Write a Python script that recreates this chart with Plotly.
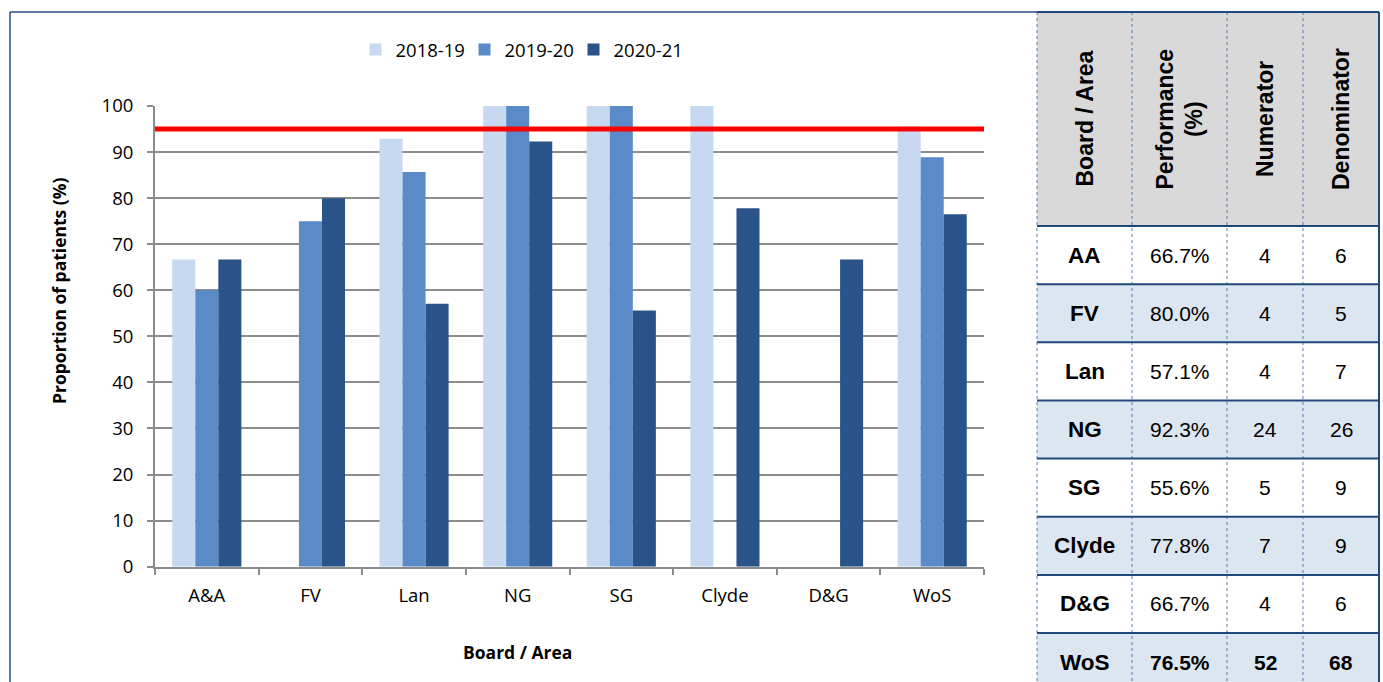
import plotly.graph_objects as go

# ---- chart data -------------------------------------------------------------
boards = ["A&A", "FV", "Lan", "NG", "SG", "Clyde", "D&G", "WoS"]
years = ["2018-19", "2019-20", "2020-21"]
perf_2018_19 = [66.7, None, 92.9, 100.0, 100.0, 100.0, None, 95.5]
perf_2019_20 = [60.0, 75.0, 85.7, 100.0, 100.0, None, None, 88.9]
perf_2020_21 = [66.7, 80.0, 57.1, 92.3, 55.6, 77.8, 66.7, 76.5]
target = 95

x_title = "Board / Area"
y_title = "Proportion of patients (%)"

# ---- table data -------------------------------------------------------------
table_headers = ["Board / Area", "Performance<br>(%)", "Numerator", "Denominator"]
table_boards = ["AA", "FV", "Lan", "NG", "SG", "Clyde", "D&G", "WoS"]
numerators = [4, 4, 4, 24, 5, 7, 4, 52]
denominators = [6, 5, 7, 26, 9, 9, 6, 68]

W, H = 1383, 682


def px(x):
    return x / W


def py(y):
    return 1 - y / H


colors = ["#C6D9F0", "#5A8BC8", "#2A5389"]
series = [perf_2018_19, perf_2019_20, perf_2020_21]

fig = go.Figure()
for name, vals, col in zip(years, series, colors):
    fig.add_trace(go.Bar(x=boards, y=vals, name=name, marker=dict(color=col, line=dict(width=0))))

# target line
fig.add_shape(type="line", xref="x domain", x0=0, x1=1, yref="y", y0=target, y1=target,
              line=dict(color="#FF0000", width=5), layer="above")

chart_font = "Open Sans"
fig.update_layout(
    width=W, height=H,
    margin=dict(l=0, r=0, t=0, b=0, autoexpand=False),
    paper_bgcolor="white", plot_bgcolor="white",
    barmode="group", bargap=0.333, bargroupgap=0,
    font=dict(family=chart_font, size=18.5, color="#000000"),
    showlegend=True,
    legend=dict(orientation="h", x=px(519), xanchor="center", y=py(50), yanchor="middle",
                font=dict(family=chart_font, size=18.5, color="#000000"),
                bgcolor="rgba(0,0,0,0)", traceorder="normal", entrywidth=64),
    xaxis=dict(domain=[px(155), px(984)], type="category",
               showline=True, linecolor="#8C8C8C", linewidth=2,
               ticks="outside", tickson="boundaries", ticklen=6, tickcolor="#8C8C8C", tickwidth=2,
               showgrid=False, ticklabelstandoff=11),
    yaxis=dict(domain=[py(566.7), py(106)], range=[0, 100], dtick=10, autorange=False,
               showline=True, linecolor="#8C8C8C", linewidth=2,
               ticks="outside", ticklen=6, tickcolor="#8C8C8C", tickwidth=2,
               showgrid=True, gridcolor="#8C8C8C", gridwidth=2, zeroline=False,
               ticklabelstandoff=10),
)

# axis titles
fig.add_annotation(xref="paper", yref="paper", x=px(517), y=py(652), xanchor="center", yanchor="middle",
                   text=f"<b>{x_title}</b>", showarrow=False,
                   font=dict(family=chart_font, size=17.5, color="#000000"))
fig.add_annotation(xref="paper", yref="paper", x=px(59), y=py(291), xanchor="center", yanchor="middle",
                   text=f"<b>{y_title}</b>", textangle=-90, showarrow=False,
                   font=dict(family=chart_font, size=17.5, color="#000000"))

# ---- chart frame (left and top edges) -----------------------------------------
frame_col = "#2B4C7E"
fig.add_shape(type="line", xref="paper", yref="paper", x0=px(10), x1=px(10), y0=py(12), y1=py(700),
              line=dict(color=frame_col, width=1.5))
fig.add_shape(type="line", xref="paper", yref="paper", x0=px(10), x1=px(1037), y0=py(12), y1=py(12),
              line=dict(color=frame_col, width=1.5))

# ---- table ------------------------------------------------------------------
col_x = [1037, 1132, 1227, 1303, 1379]
top, head_bottom = 12, 226
row_h = 58.15
row_y = [head_bottom + i * row_h for i in range(len(table_boards) + 1)]
line_col = "#1F497D"
row_fill = ["#FFFFFF", "#DCE6F1"]
tfont = "Liberation Sans, Arial"

# header background
fig.add_shape(type="rect", xref="paper", yref="paper", x0=px(col_x[0]), x1=px(col_x[-1]),
              y0=py(head_bottom), y1=py(top), fillcolor="#D9D9D9", line=dict(width=0), layer="below")
# row backgrounds
for i in range(len(table_boards)):
    fig.add_shape(type="rect", xref="paper", yref="paper", x0=px(col_x[0]), x1=px(col_x[-1]),
                  y0=py(row_y[i + 1]), y1=py(row_y[i]), fillcolor=row_fill[i % 2],
                  line=dict(width=0), layer="below")

# vertical dotted separators
for x in col_x[:-1]:
    fig.add_shape(type="line", xref="paper", yref="paper", x0=px(x), x1=px(x), y0=py(top), y1=py(700),
                  line=dict(color="#5B7DB1", width=1, dash="dot"))
# right edge
fig.add_shape(type="line", xref="paper", yref="paper", x0=px(col_x[-1]), x1=px(col_x[-1]), y0=py(top), y1=py(700),
              line=dict(color=line_col, width=2))
# horizontal rules
for y in [top] + row_y:
    fig.add_shape(type="line", xref="paper", yref="paper", x0=px(col_x[0]), x1=px(col_x[-1]), y0=py(y), y1=py(y),
                  line=dict(color=line_col, width=2))

# header text
for j, h in enumerate(table_headers):
    cx = (col_x[j] + col_x[j + 1]) / 2
    fig.add_annotation(xref="paper", yref="paper", x=px(cx), y=py((top + head_bottom) / 2),
                       xanchor="center", yanchor="middle",
                       text=f"<b>{h}</b>", textangle=-90, showarrow=False,
                       font=dict(family=tfont, size=23, color="#000000"))

# body text
for i, b in enumerate(table_boards):
    cy = (row_y[i] + row_y[i + 1]) / 2
    last = i == len(table_boards) - 1
    cells = [f"{perf_2020_21[i]:.1f}%", str(numerators[i]), str(denominators[i])]
    fig.add_annotation(xref="paper", yref="paper", x=px((col_x[0] + col_x[1]) / 2), y=py(cy),
                       xanchor="center", yanchor="middle",
                       text=f"<b>{b}</b>", showarrow=False,
                       font=dict(family=tfont, size=22.5, color="#000000"))
    for j, c in enumerate(cells, start=1):
        txt = f"<b>{c}</b>" if last else c
        fig.add_annotation(xref="paper", yref="paper", x=px((col_x[j] + col_x[j + 1]) / 2), y=py(cy),
                           xanchor="center", yanchor="middle",
                           text=txt, showarrow=False,
                           font=dict(family=tfont, size=21, color="#000000"))

fig.write_html("out.html")
